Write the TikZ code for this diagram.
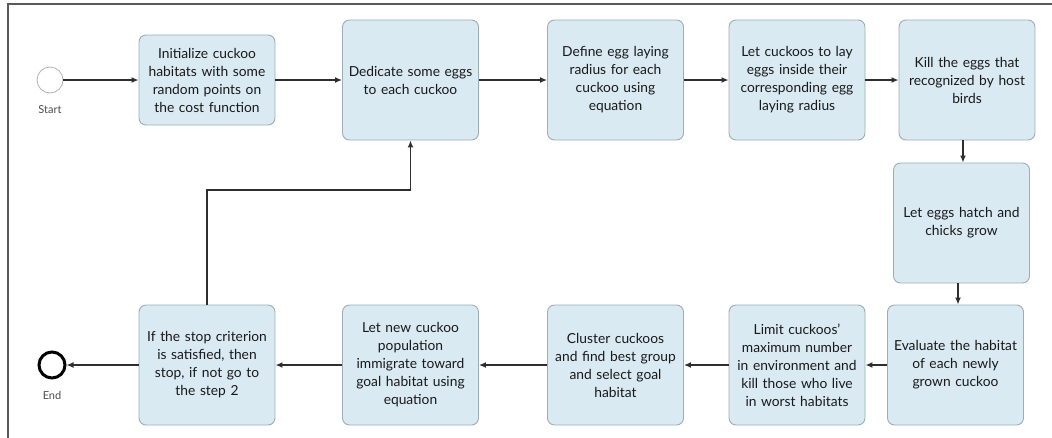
\documentclass[tikz,border=0pt]{standalone}
\usepackage{fontspec}
\setmainfont{Lato}
\usetikzlibrary{arrows.meta}
\definecolor{boxfill}{HTML}{DAEAF2}
\definecolor{boxline}{HTML}{9EACB4}
\definecolor{flowline}{HTML}{2E2E2E}
\tikzset{
  proc/.style={draw=boxline, fill=boxfill, rounded corners=7pt, line width=0.9pt,
    text width=130pt, inner sep=3pt, minimum height=120pt, align=center,
    font=\fontsize{13.8}{18}\selectfont, text=black!90},
  flow/.style={draw=flowline, line width=1.4pt, -{Latex[length=7pt,width=6pt]}},
  evlabel/.style={font=\fontsize{11}{13}\selectfont, text=black!70}
}
\begin{document}
\begin{tikzpicture}[x=1pt,y=-1pt]
        \useasboundingbox (0,0) rectangle (1052,437);
        \pgfmathsetmacro{\rowa}{80} % top row
        \pgfmathsetmacro{\rowb}{365} % bottom row
        \draw[black!65, line width=1.5pt] (1060,4) -- (8,4) -- (8,445); % frame
        % events
        \node[circle, draw=black!30, line width=0.8pt, minimum size=26pt, inner sep=0pt] (start) at (50,\rowa) {};
        \node[evlabel] (startlbl) at (50,110) {Start};
        \node[circle, draw=black, line width=3pt, minimum size=26pt, inner sep=0pt] (end) at (52,\rowb) {};
        \node[evlabel] (endlbl) at (52,395) {End};
        % top row
        \node[proc, minimum height=90pt] (init) at (207,\rowa) {Initialize cuckoo\\habitats with some\\random points on\\the cost function};
        \node[proc] (dedicate) at (410.5,\rowa) {Dedicate some eggs\\to each cuckoo};
        \node[proc] (radius) at (615.5,\rowa) {Define egg laying\\radius for each\\cuckoo using\\equation};
        \node[proc] (lay) at (797,\rowa) {Let cuckoos to lay\\eggs inside their\\corresponding egg\\laying radius};
        \node[proc] (kill) at (967,\rowa) {Kill the eggs that\\recognized by host\\birds};
        % right column
        \node[proc] (hatch) at (961.5,223) {Let eggs hatch and\\chicks grow};
        \node[proc] (evaluate) at (955.5,\rowb) {Evaluate the habitat\\of each newly\\grown cuckoo};
        % bottom row
        \node[proc] (limit) at (797,\rowb) {Limit cuckoos'\\maximum number\\in environment and\\kill those who live\\in worst habitats};
        \node[proc] (cluster) at (615.5,\rowb) {Cluster cuckoos\\and find best group\\and select goal\\habitat};
        \node[proc] (migrate) at (410.5,\rowb) {Let new cuckoo\\population\\immigrate toward\\goal habitat using\\equation};
        \node[proc] (stop) at (207,\rowb) {If the stop criterion\\is satisfied, then\\stop, if not go to\\the step 2};
        \coordinate (turn) at (207,190);
        % connectors
        \draw[flow] (start) -- (init);
        \draw[flow] (init) -- (dedicate);
        \draw[flow] (dedicate) -- (radius);
        \draw[flow] (radius) -- (lay);
        \draw[flow] (lay) -- (kill);
        \draw[flow] (kill.south -| 963,0) -- (hatch.north -| 963,0);
        \draw[flow] (hatch.south -| 958,0) -- (evaluate.north -| 958,0);
        \draw[flow] (evaluate) -- (limit);
        \draw[flow] (limit) -- (cluster);
        \draw[flow] (cluster) -- (migrate);
        \draw[flow] (migrate) -- (stop);
        \draw[flow] (stop) -- (end);
        \draw[flow] (stop.north) -- (turn) -| (dedicate.south);
    \end{tikzpicture}
\end{document}
